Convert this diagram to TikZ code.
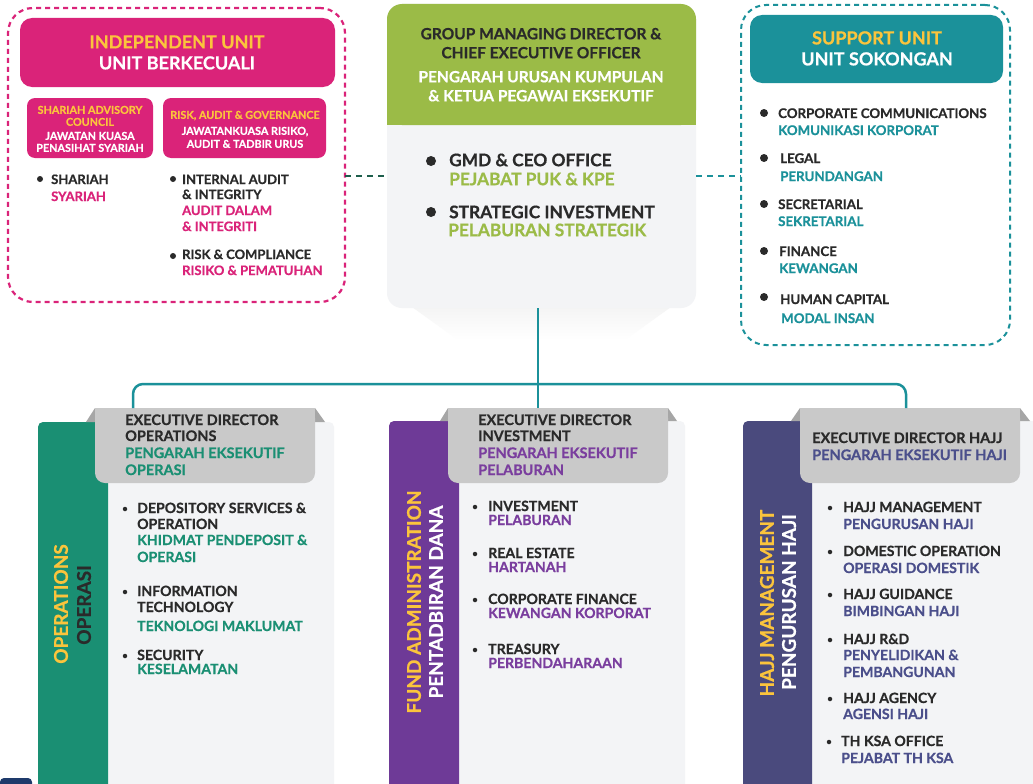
\documentclass[tikz,border=0pt]{standalone}
\usepackage{fontspec}
\setmainfont{Lato}[BoldFeatures={FakeBold=0.6}]
\definecolor{pinkc}{HTML}{DA2379}
\definecolor{yel}{HTML}{FBC43C}
\definecolor{teal}{HTML}{1B919A}
\definecolor{lgreen}{HTML}{9BBB47}
\definecolor{dark}{HTML}{2A2A2A}
\definecolor{opsg}{HTML}{1A8F73}
\definecolor{purp}{HTML}{6E3A97}
\definecolor{purpt}{HTML}{7A3E9E}
\definecolor{hajj}{HTML}{4A4A7D}
\definecolor{hajjt}{HTML}{4B4F8B}
\definecolor{tabg}{HTML}{C9C9C9}
\definecolor{tabd}{HTML}{A6A6A6}
\definecolor{bodyg}{HTML}{F3F4F6}
\definecolor{dgreen}{HTML}{1E5E4C}
\definecolor{navyc}{HTML}{1E3A6B}
\newcounter{tn}
\newcommand\Tl[4]{\stepcounter{tn}\node[inner sep=0pt,anchor=base west,text=dark,#1] (t\arabic{tn}) at (#2,#3) {#4};}
\newcommand\Tc[4]{\stepcounter{tn}\node[inner sep=0pt,anchor=base,text=dark,#1] (t\arabic{tn}) at (#2,#3) {#4};}
\newcommand\Bu[3]{\stepcounter{tn}\node[circle,fill=dark,inner sep=0pt,minimum size=#3] (b\arabic{tn}) at (#1,#2) {};}
\tikzset{
 fsub/.style={font=\bfseries\fontsize{10.8}{10.8}\selectfont},
 fcol/.style={font=\bfseries\fontsize{14.1}{14.1}\selectfont},
 ftab/.style={font=\bfseries\fontsize{14.5}{14.5}\selectfont},
 fhdr/.style={font=\bfseries\fontsize{15.5}{15.5}\selectfont},
 find/.style={font=\bfseries\fontsize{13}{13}\selectfont},
 fsup/.style={font=\bfseries\fontsize{13.3}{13.3}\selectfont},
 fctr/.style={font=\bfseries\fontsize{17.3}{17.3}\selectfont},
 fbig/.style={font=\bfseries\fontsize{18}{18}\selectfont},
 vtext/.style={font=\bfseries\fontsize{19}{19}\selectfont,rotate=90,inner sep=0pt,anchor=center},
 box/.style={draw=none,inner sep=0pt,outer sep=0pt},
 conn/.style={teal,line width=2.5pt},
}
\begin{document}
\begin{tikzpicture}[x=1pt,y=-1pt]
\useasboundingbox (0,0) rectangle (1033,784);
\fill[white] (0,0) rectangle (1033,784);

% ---------------- Independent unit
\node[box,draw=pinkc,dashed,dash pattern=on 5pt off 4pt,line width=2.2pt,rounded corners=25pt,minimum width=337pt,minimum height=294pt] (indep) at (176.5,155) {};
\node[box,fill=pinkc,rounded corners=12pt,minimum width=315pt,minimum height=69pt] (indephd) at (177.5,52.5) {};
\node[box,fill=pinkc,rounded corners=8pt,minimum width=126pt,minimum height=60pt] (sac) at (90,128) {};
\node[box,fill=pinkc,rounded corners=8pt,minimum width=163pt,minimum height=60pt] (rag) at (244.5,128) {};
\Tc{fbig,text=yel}{177}{48.4}{INDEPENDENT UNIT}
\Tc{fbig,text=white}{177}{69.4}{UNIT BERKECUALI}
\Tc{fsub,text=yel}{90}{113.8}{SHARIAH ADVISORY}
\Tc{fsub,text=yel}{90}{125.8}{COUNCIL}
\Tc{fsub,text=white}{90}{139.8}{JAWATAN KUASA}
\Tc{fsub,text=white}{90}{151.8}{PENASIHAT SYARIAH}
\Tc{fsub,text=yel}{245}{118.8}{RISK, AUDIT \& GOVERNANCE}
\Tc{fsub,text=white}{245}{134.8}{JAWATANKUASA RISIKO,}
\Tc{fsub,text=white}{245}{147.8}{AUDIT \& TADBIR URUS}
\Bu{40}{179}{6pt}
\Tl{find}{51}{184}{SHARIAH}
\Tl{find,text=pinkc}{51}{201}{SYARIAH}
\Bu{173}{179}{6pt}
\Tl{find}{182}{184}{INTERNAL AUDIT}
\Tl{find}{182}{199}{\& INTEGRITY}
\Tl{find,text=pinkc}{182}{215}{AUDIT DALAM}
\Tl{find,text=pinkc}{182}{231}{\& INTEGRITI}
\Bu{173}{256}{6pt}
\Tl{find}{182}{259}{RISK \& COMPLIANCE}
\Tl{find,text=pinkc}{182}{275}{RISIKO \& PEMATUHAN}

% ---------------- Centre box
\shade[top color=black!5,bottom color=white] (405,302) -- (678,302) -- (625,340) -- (458,340) -- cycle;
\node[box,fill=bodyg,rounded corners=15pt,minimum width=309pt,minimum height=304pt] (gmd) at (541.5,156) {};
\fill[lgreen,rounded corners=15pt] (387,4) rectangle (696,125);
\fill[lgreen] (387,60) rectangle (696,125);
\Tc{fhdr}{541}{39.3}{GROUP MANAGING DIRECTOR \&}
\Tc{fhdr}{541}{58.3}{CHIEF EXECUTIVE OFFICER}
\Tc{fhdr,text=white}{541}{82.3}{PENGARAH URUSAN KUMPULAN}
\Tc{fhdr,text=white}{541}{101.3}{\& KETUA PEGAWAI EKSEKUTIF}
\Bu{431}{161}{10pt}
\Tl{fctr}{449}{166.2}{GMD \& CEO OFFICE}
\Tl{fctr,text=lgreen}{449}{185.2}{PEJABAT PUK \& KPE}
\Bu{431}{212}{10pt}
\Tl{fctr}{449}{218.2}{STRATEGIC INVESTMENT}
\Tl{fctr,text=lgreen}{448}{236.2}{PELABURAN STRATEGIK}

% ---------------- Support unit
\node[box,draw=teal,dashed,dash pattern=on 5pt off 4pt,line width=2pt,rounded corners=25pt,minimum width=269pt,minimum height=340pt] (supp) at (875.5,175) {};
\node[box,fill=teal,rounded corners=12pt,minimum width=253pt,minimum height=68pt] (supphd) at (876.5,49) {};
\Tc{fbig,text=yel}{877}{44.4}{SUPPORT UNIT}
\Tc{fbig,text=white}{877}{65.4}{UNIT SOKONGAN}
\Bu{764}{113}{8pt}
\Tl{fsup}{778}{118}{CORPORATE COMMUNICATIONS}
\Tl{fsup,text=teal}{778}{135}{KOMUNIKASI KORPORAT}
\Bu{764}{158}{8pt}
\Tl{fsup}{780}{163}{LEGAL}
\Tl{fsup,text=teal}{780}{181}{PERUNDANGAN}
\Bu{764}{204}{8pt}
\Tl{fsup}{778}{209}{SECRETARIAL}
\Tl{fsup,text=teal}{778}{226}{SEKRETARIAL}
\Bu{764}{251}{8pt}
\Tl{fsup}{779}{256}{FINANCE}
\Tl{fsup,text=teal}{779}{273}{KEWANGAN}
\Bu{764}{297}{8pt}
\Tl{fsup}{780}{304}{HUMAN CAPITAL}
\Tl{fsup,text=teal}{781}{323}{MODAL INSAN}

% dashed links
\coordinate (la) at (0,176);
\draw[dgreen,line width=2.5pt,dash pattern=on 6pt off 5pt] (indep.east |- la) -- (gmd.west |- la);
\draw[teal,line width=2.5pt,dash pattern=on 6pt off 5pt] (gmd.east |- la) -- (supp.west |- la);

% ---------------- Columns
% operations
\fill[bodyg,rounded corners=5pt] (38,422) rectangle (334,800);
\node[box,fill=opsg,rounded corners=5pt,minimum width=70pt,minimum height=378pt,anchor=north west] (opsstrip) at (38,422) {};
\fill[opsg] (70,422) rectangle (108,800);
\fill[tabd] (86,422) -- (95,408) -- (95,422) -- cycle;
\fill[tabd] (315,408) -- (325,422) -- (315,422) -- cycle;
\node[box,fill=tabg,rounded corners=10pt,minimum width=220pt,minimum height=75pt] (opstab) at (205,445.5) {};
\fill[tabg] (opstab.north west) rectangle (opstab.east);
% investment
\fill[bodyg,rounded corners=5pt] (389,421) rectangle (685,800);
\node[box,fill=purp,rounded corners=5pt,minimum width=70pt,minimum height=379pt,anchor=north west] (invstrip) at (389,421) {};
\fill[purp] (420,421) rectangle (459,800);
\fill[tabd] (440,421) -- (448,408) -- (448,421) -- cycle;
\fill[tabd] (668,408) -- (677,421) -- (668,421) -- cycle;
\node[box,fill=tabg,rounded corners=10pt,minimum width=220pt,minimum height=75pt] (invtab) at (558,445.5) {};
\fill[tabg] (invtab.north west) rectangle (invtab.east);
% hajj
\fill[bodyg,rounded corners=5pt] (743,421) rectangle (1045,800);
\node[box,fill=hajj,rounded corners=5pt,minimum width=69pt,minimum height=379pt,anchor=north west] (hajjstrip) at (743,421) {};
\fill[hajj] (775,421) rectangle (812,800);
\fill[tabd] (791,421) -- (800,408) -- (800,421) -- cycle;
\fill[tabd] (1020,408) -- (1030,421) -- (1020,421) -- cycle;
\node[box,fill=tabg,rounded corners=10pt,minimum width=220pt,minimum height=75pt] (hajjtab) at (910,445.5) {};
\fill[tabg] (hajjtab.north west) rectangle (hajjtab.east);

% tree connector
\coordinate (g1) at (538,308);
\coordinate (g2) at (538,408);
\draw[conn] (g1) -- (g2);
\coordinate (l1) at (133,408);
\coordinate (r1) at (906,408);
\coordinate (busy) at (0,384);
\draw[conn,rounded corners=10pt] (l1) |- (r1 |- busy) -- (r1);

% operations text
\Tl{ftab}{125}{425}{EXECUTIVE DIRECTOR}
\Tl{ftab}{125}{441}{OPERATIONS}
\Tl{ftab,text=opsg}{125}{458}{PENGARAH EKSEKUTIF}
\Tl{ftab,text=opsg}{125}{475}{OPERASI}
\node[vtext,text=yel] (v1) at (61,604) {OPERATIONS};
\node[vtext,text=dark] (v2) at (84,605) {OPERASI};
\Bu{125}{509}{4.5pt}
\Tl{fcol}{137}{513}{DEPOSITORY SERVICES \&}
\Tl{fcol}{137}{529}{OPERATION}
\Tl{fcol,text=opsg}{137}{545}{KHIDMAT PENDEPOSIT \&}
\Tl{fcol,text=opsg}{137}{562}{OPERASI}
\Bu{125}{592}{4.5pt}
\Tl{fcol}{137}{596}{INFORMATION}
\Tl{fcol}{137}{612}{TECHNOLOGY}
\Tl{fcol,text=opsg}{137}{631}{TEKNOLOGI MAKLUMAT}
\Bu{125}{656}{4.5pt}
\Tl{fcol}{137}{660}{SECURITY}
\Tl{fcol,text=opsg}{137}{674}{KESELAMATAN}

% investment text
\Tl{ftab}{478}{425}{EXECUTIVE DIRECTOR}
\Tl{ftab}{478}{441}{INVESTMENT}
\Tl{ftab,text=purpt}{478}{458}{PENGARAH EKSEKUTIF}
\Tl{ftab,text=purpt}{478}{475}{PELABURAN}
\node[vtext,text=yel] (v3) at (414,602) {FUND ADMINISTRATION};
\node[vtext,text=white] (v4) at (436,602) {PENTADBIRAN DANA};
\Bu{475}{507}{4.5pt}
\Tl{fcol}{488}{511}{INVESTMENT}
\Tl{fcol,text=purpt}{488}{525}{PELABURAN}
\Bu{475}{554}{4.5pt}
\Tl{fcol}{488}{558}{REAL ESTATE}
\Tl{fcol,text=purpt}{488}{572}{HARTANAH}
\Bu{475}{600}{4.5pt}
\Tl{fcol}{488}{604}{CORPORATE FINANCE}
\Tl{fcol,text=purpt}{488}{618}{KEWANGAN KORPORAT}
\Bu{475}{650}{4.5pt}
\Tl{fcol}{488}{654}{TREASURY}
\Tl{fcol,text=purpt}{488}{668}{PERBENDAHARAAN}

% hajj text
\Tl{ftab}{812}{443}{EXECUTIVE DIRECTOR HAJJ}
\Tl{ftab,text=hajjt}{812}{460}{PENGARAH EKSEKUTIF HAJI}
\node[vtext,text=yel] (v5) at (767,603) {HAJJ MANAGEMENT};
\node[vtext,text=white] (v6) at (789,602) {PENGURUSAN HAJI};
\Bu{830}{508}{4.5pt}
\Tl{fcol}{843}{512}{HAJJ MANAGEMENT}
\Tl{fcol,text=hajjt}{843}{529}{PENGURUSAN HAJI}
\Bu{830}{552}{4.5pt}
\Tl{fcol}{843}{556}{DOMESTIC OPERATION}
\Tl{fcol,text=hajjt}{843}{573}{OPERASI DOMESTIK}
\Bu{830}{595}{4.5pt}
\Tl{fcol}{843}{599}{HAJJ GUIDANCE}
\Tl{fcol,text=hajjt}{843}{616}{BIMBINGAN HAJI}
\Bu{830}{640}{4.5pt}
\Tl{fcol}{843}{644}{HAJJ R\&D}
\Tl{fcol,text=hajjt}{843}{660}{PENYELIDIKAN \&}
\Tl{fcol,text=hajjt}{843}{677}{PEMBANGUNAN}
\Bu{830}{699}{4.5pt}
\Tl{fcol}{843}{703}{HAJJ AGENCY}
\Tl{fcol,text=hajjt}{843}{719}{AGENSI HAJI}
\Bu{829}{742}{4.5pt}
\Tl{fcol}{841}{746}{TH KSA OFFICE}
\Tl{fcol,text=hajjt}{841}{763}{PEJABAT TH KSA}

% bottom-left corner piece
\fill[navyc,rounded corners=4pt] (0,778) rectangle (32,800);
\end{tikzpicture}
\end{document}
